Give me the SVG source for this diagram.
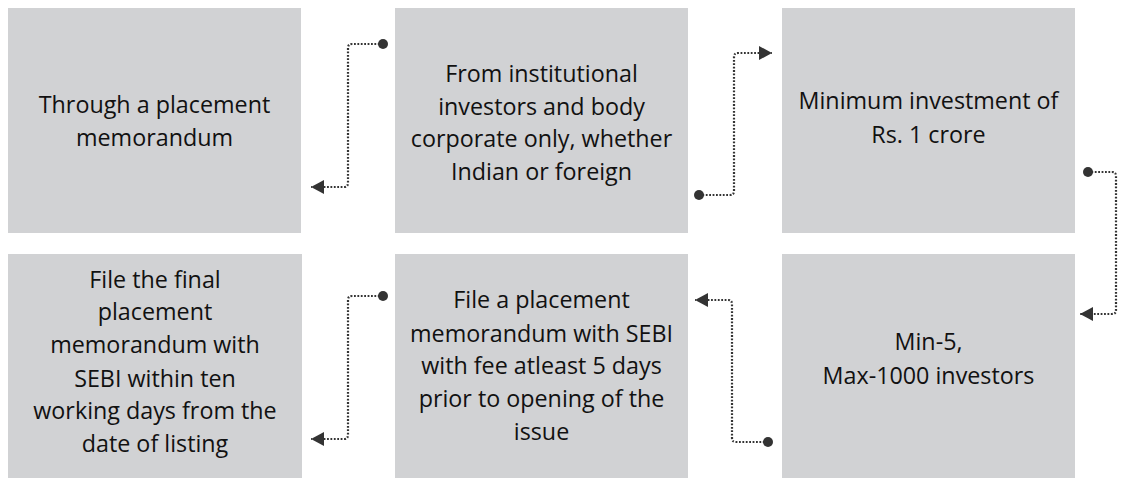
<svg xmlns="http://www.w3.org/2000/svg" width="1123" height="478" viewBox="0 0 1123 478">
<style>
.box{fill:#d1d2d4}
.t{font-family:"Open Sans","Noto Sans",sans-serif;font-size:23.3px;fill:#111;text-anchor:middle}
.c{fill:none;stroke:#333;stroke-width:2.2;stroke-dasharray:1.8 1.6;marker-start:url(#dot);marker-end:url(#arr)}
</style>
<defs>
<marker id="arr" markerUnits="userSpaceOnUse" markerWidth="14" markerHeight="14" refX="13" refY="7" orient="auto" viewBox="0 0 14 14"><path d="M0,0 L13,7 L0,14 z" fill="#333"/></marker>
<marker id="dot" markerUnits="userSpaceOnUse" markerWidth="12" markerHeight="12" refX="6" refY="6" viewBox="0 0 12 12"><circle cx="6" cy="6" r="5" fill="#333"/></marker>
</defs>
<rect width="1123" height="478" fill="#fff"/>
<g id="n1"><rect class="box" x="8" y="8" width="293" height="225"/>
<text class="t" x="154.5"><tspan x="154.5" y="113">Through a placement</tspan><tspan x="154.5" y="146">memorandum</tspan></text></g>
<g id="n2"><rect class="box" x="395" y="8" width="293" height="225"/>
<text class="t"><tspan x="541.5" y="82">From institutional</tspan><tspan x="541.5" y="115">investors and body</tspan><tspan x="541.5" y="147">corporate only, whether</tspan><tspan x="541.5" y="180">Indian or foreign</tspan></text></g>
<g id="n3"><rect class="box" x="782" y="8" width="293" height="225"/>
<text class="t"><tspan x="928.5" y="109">Minimum investment of</tspan><tspan x="928.5" y="143">Rs. 1 crore</tspan></text></g>
<g id="n4"><rect class="box" x="8" y="254" width="294" height="224"/>
<text class="t"><tspan x="155" y="288">File the final</tspan><tspan x="155" y="320">placement</tspan><tspan x="155" y="353">memorandum with</tspan><tspan x="155" y="387">SEBI within ten</tspan><tspan x="155" y="419">working days from the</tspan><tspan x="155" y="452">date of listing</tspan></text></g>
<g id="n5"><rect class="box" x="395" y="254" width="293" height="224"/>
<text class="t"><tspan x="541.5" y="308">File a placement</tspan><tspan x="541.5" y="342">memorandum with SEBI</tspan><tspan x="541.5" y="374">with fee atleast 5 days</tspan><tspan x="541.5" y="407">prior to opening of the</tspan><tspan x="541.5" y="440">issue</tspan></text></g>
<g id="n6"><rect class="box" x="782" y="254" width="293" height="224"/>
<text class="t"><tspan x="928.5" y="350">Min-5,</tspan><tspan x="928.5" y="384">Max-1000 investors</tspan></text></g>
<g id="connectors">
<path class="c" d="M383,44 H352 Q348,44 348,48 V183 Q348,187 344,187 H311"/>
<path class="c" d="M699,195 H730 Q734,195 734,191 V57 Q734,53 738,53 H772"/>
<path class="c" d="M1088,172 H1112 Q1116,172 1116,176 V310 Q1116,314 1112,314 H1080"/>
<path class="c" d="M768,442 H736 Q732,442 732,438 V304 Q732,300 728,300 H695"/>
<path class="c" d="M383,296 H352 Q348,296 348,300 V435 Q348,439 344,439 H311"/>
</g>
</svg>
